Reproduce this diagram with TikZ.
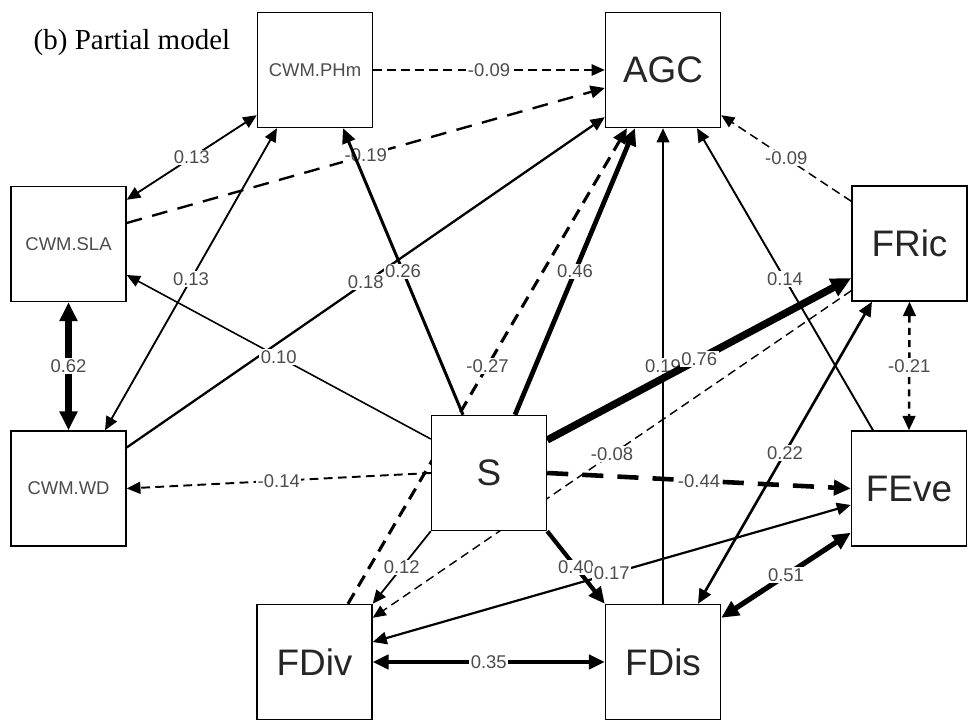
\documentclass[tikz,border=0pt]{standalone}
\usepackage{fontspec}
\setmainfont{Liberation Serif}
\setsansfont{Liberation Sans}
\usepackage{tikz}
\usetikzlibrary{arrows.meta}
\pgfdeclarelayer{back}
\pgfsetlayers{back,main}
\tikzset{
  var/.style={draw, line width=0.8pt, fill=white, minimum size=2.3cm, inner sep=0pt, text=black!85, font=\sffamily\fontsize{21}{24}\selectfont},
  cwm/.style={var, text=black!70, font=\sffamily\fontsize{10.5}{12}\selectfont},
  coef/.style={fill=white, inner sep=0.8pt, text=black!70, font=\sffamily\fontsize{10.5}{12}\selectfont},
  eff/.style={line width=0.4pt+#1*5pt, -{Triangle[length=6.5pt 1.2, width=5.5pt 1.2]}},
  cov/.style={line width=0.4pt+#1*5pt, {Triangle[length=6.5pt 1.2, width=5.5pt 1.2]}-{Triangle[length=6.5pt 1.2, width=5.5pt 1.2]}},
  neg/.style={dash pattern=#1},
  neg/.default={on 5pt off 3pt}
}

\begin{document}
\begin{tikzpicture}
	\useasboundingbox (0,0) rectangle (19.42,-14.5);
	\node [anchor=west, font=\fontsize{16.5}{19}\selectfont] (title) at (0.55,-0.86) {(b) Partial model};
	\node [cwm] (PHm) at (6.30,-1.40) {CWM.PHm};
	\node [var] (AGC) at (13.26,-1.40) {AGC};
	\node [cwm] (SLA) at (1.37,-4.88) {CWM.SLA};
	\node [var] (FRic) at (18.19,-4.87) {FRic};
	\node [cwm] (WD) at (1.37,-9.77) {CWM.WD};
	\node [var] (S) at (9.78,-9.46) {S};
	\node [var] (FEve) at (18.18,-9.77) {FEve};
	\node [var] (FDiv) at (6.29,-13.24) {FDiv};
	\node [var] (FDis) at (13.26,-13.24) {FDis};
	\begin{pgfonlayer}{back}
	\draw [eff=0.09, neg] (PHm.east) -- node [coef] {-0.09} (AGC.west);
	\draw [eff=0.19, neg={on 9pt off 6pt}] ([yshift=0.42cm]SLA.east) -- node [coef] {-0.19} ([yshift=-0.36cm]AGC.west);
	\draw [cov=0.13] ([yshift=-0.28cm]SLA.north east) -- node [coef] {0.13} ([yshift=0.26cm]PHm.south west);
	\draw [cov=0.13] ([xshift=0.73cm]WD.north) -- node [coef] {0.13} ([xshift=-0.76cm]PHm.south);
	\draw [cov=0.62] (SLA.south) -- node [coef] {0.62} (WD.north);
	\draw [eff=0.18] ([yshift=0.82cm]WD.east) -- node [coef] {0.18} ([yshift=0.22cm]AGC.south west);
	\draw [eff=0.26] ([xshift=-0.52cm]S.north) -- node [coef] {0.26} ([xshift=0.56cm]PHm.south);
	\draw [eff=0.10] ([yshift=0.68cm]S.west) -- node [coef] {0.10} ([yshift=-0.62cm]SLA.east);
	\draw [eff=0.46] ([xshift=0.52cm]S.north) -- node [coef] {0.46} ([xshift=-0.56cm]AGC.south);
	\draw [eff=0.27, neg={on 7pt off 4.5pt}] ([xshift=0.67cm]FDiv.north) -- node [coef] {-0.27} ([xshift=-0.72cm]AGC.south);
	\draw [eff=0.19] (FDis.north) -- node [coef] {0.19} (AGC.south);
	\draw [eff=0.14] ([xshift=-0.72cm]FEve.north) -- node [coef] {0.14} ([xshift=0.68cm]AGC.south);
	\draw [eff=0.09, neg] ([yshift=-0.32cm]FRic.north west) -- node [coef] {-0.09} ([yshift=0.26cm]AGC.south east);
	\draw [eff=0.76] ([yshift=0.66cm]S.east) -- node [coef] {0.76} ([yshift=-0.69cm]FRic.west);
	\draw [eff=0.08, neg] ([yshift=0.22cm]FRic.south west) -- node [coef] {-0.08} ([yshift=-0.28cm]FDiv.north east);
	\draw [eff=0.14, neg] (S.west) -- node [coef] {-0.14} (WD.east);
	\draw [eff=0.44, neg={on 12pt off 8pt}] (S.east) -- node [coef] {-0.44} (FEve.west);
	\draw [eff=0.12] (S.south west) -- node [coef] {0.12} (FDiv.north east);
	\draw [eff=0.40] (S.south east) -- node [coef] {0.40} (FDis.north west);
	\draw [cov=0.17] ([yshift=-0.33cm]FEve.west) -- node [coef] {0.17} ([yshift=0.4cm]FDiv.east);
	\draw [cov=0.22] ([xshift=-0.75cm]FRic.south) -- node [coef] {0.22} ([xshift=0.7cm]FDis.north);
	\draw [cov=0.21, neg={on 4pt off 3pt}] (FRic.south) -- node [coef] {-0.21} (FEve.north);
	\draw [cov=0.51] ([yshift=0.28cm]FEve.south west) -- node [coef] {0.51} ([yshift=-0.28cm]FDis.north east);
	\draw [cov=0.35] (FDiv.east) -- node [coef] {0.35} (FDis.west);
	\end{pgfonlayer}
\end{tikzpicture}
\end{document}
